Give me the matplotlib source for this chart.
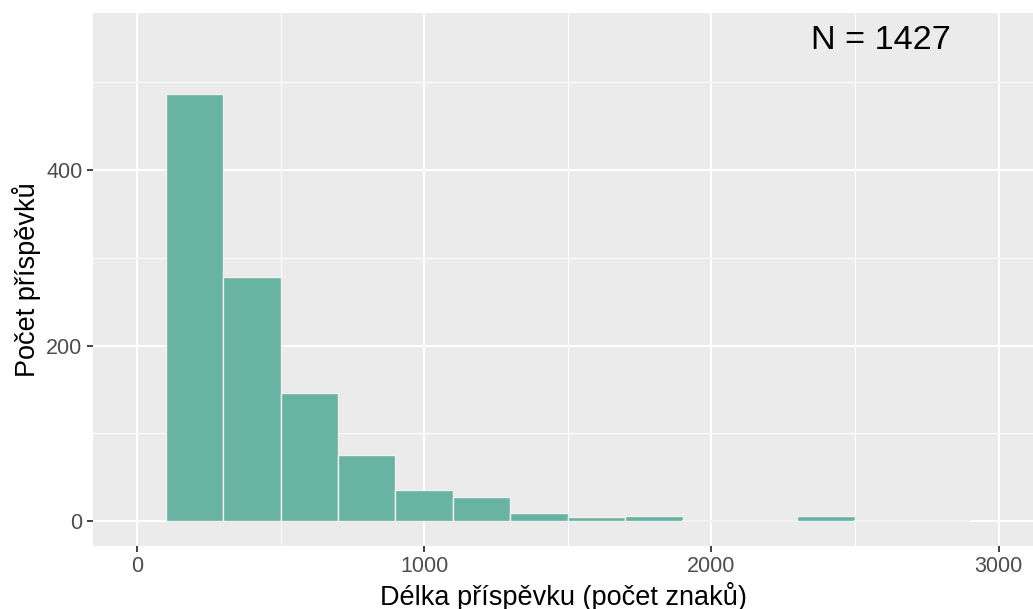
import numpy as np
import matplotlib.pyplot as plt
from matplotlib.ticker import MultipleLocator

plt.rcParams['font.family'] = ['Liberation Sans', 'DejaVu Sans']

# histogram bins (binwidth 200) and counts
bin_edges = [100, 300, 500, 700, 900, 1100, 1300, 1500, 1700, 1900, 2100, 2300, 2500, 2700, 2900]
counts = [487, 278, 146, 75, 35, 27, 9, 5, 6, 0, 0, 6, 0, 0]
n_label = "N = 1427"

fig = plt.figure(figsize=(10.33, 6.09), dpi=100)
ax = fig.add_axes([0.090, 0.1034, 0.910, 0.8753])
ax.set_facecolor('#EBEBEB')

# grid like ggplot2 theme_grey
ax.xaxis.set_major_locator(MultipleLocator(1000))
ax.xaxis.set_minor_locator(MultipleLocator(500))
ax.yaxis.set_major_locator(MultipleLocator(200))
ax.yaxis.set_minor_locator(MultipleLocator(100))
ax.grid(which='major', color='white', linewidth=1.4)
ax.grid(which='minor', color='white', linewidth=0.7)
ax.set_axisbelow(True)

widths = np.diff(bin_edges)
ax.bar(bin_edges[:-1], counts, width=widths, align='edge',
       color='#69b3a2', edgecolor='#F0F0F0', linewidth=1.0)
# empty bins show as an outline along zero
for left, w, c in zip(bin_edges[:-1], widths, counts):
    if c == 0:
        ax.plot([left, left + w], [0, 0], color='#F2F2F2', linewidth=1.5, zorder=3)

ax.set_xlim(-153, 3120)
ax.set_ylim(-28.5, 579)

for s in ax.spines.values():
    s.set_visible(False)
ax.tick_params(which='major', length=4, width=1.3, color='#333333',
               labelcolor='#4D4D4D', labelsize=15.5)
ax.tick_params(which='minor', length=0)

ax.set_xlabel('Délka příspěvku (počet znaků)', fontsize=19.5, color='black', labelpad=3)
ax.set_ylabel('Počet příspěvků', fontsize=19.5, color='black', labelpad=4)

ax.text(2589, 548, n_label, fontsize=24.7, ha='center', va='center', color='black')

fig.savefig('out.png', dpi=100)
